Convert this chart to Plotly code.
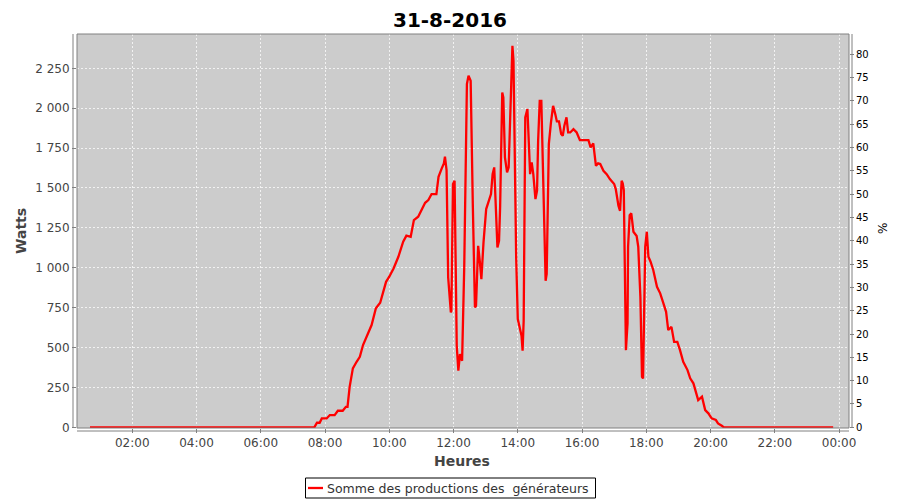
import plotly.graph_objects as go

DAY = "2016-08-31"
TITLE = "31-8-2016"
SERIES_NAME = "Somme des productions des \u00a0générateurs"
PEAK_W = 2920  # watts corresponding to 100 %

times = [
    "00:41", "01:30", "02:30", "03:30", "04:30", "05:30", "06:30", "07:00", "07:40",
    "07:45", "07:50", "07:54", "08:03", "08:09", "08:18", "08:24", "08:33", "08:39", "08:42",
    "08:46", "08:52", "08:59", "09:05", "09:11", "09:21", "09:27", "09:35", "09:43", "09:54",
    "10:00", "10:08", "10:17", "10:26", "10:32", "10:40", "10:46", "10:54", "10:59", "11:07",
    "11:13", "11:19", "11:28", "11:32", "11:38", "11:42", "11:44", "11:47", "11:50", "11:55",
    "11:56", "11:59", "12:02", "12:06", "12:09", "12:12", "12:16", "12:20", "12:25", "12:28",
    "12:32", "12:36", "12:40", "12:42", "12:46", "12:49", "12:52", "12:56", "13:01", "13:05",
    "13:10", "13:13", "13:16", "13:18", "13:20", "13:22", "13:25", "13:27", "13:31", "13:33",
    "13:36", "13:40", "13:43", "13:46", "13:48", "13:50", "13:52", "13:55", "13:57", "14:00",
    "14:04", "14:07", "14:09", "14:11", "14:14", "14:18", "14:21", "14:23", "14:26", "14:29",
    "14:33", "14:36", "14:38", "14:41", "14:44", "14:47", "14:50", "14:52", "14:54", "14:56",
    "14:58", "15:02", "15:06", "15:10", "15:13", "15:17", "15:21", "15:24", "15:27", "15:31",
    "15:34", "15:38", "15:44", "15:50", "15:56", "16:04", "16:12", "16:16", "16:21", "16:26",
    "16:30", "16:34", "16:40", "16:46", "16:52", "17:00", "17:03", "17:08", "17:11", "17:14",
    "17:16", "17:18", "17:20", "17:22", "17:25", "17:26", "17:29", "17:32", "17:36", "17:42",
    "17:45", "17:49", "17:52", "17:54", "17:56", "17:58", "18:01", "18:04", "18:08", "18:13",
    "18:20", "18:26", "18:32", "18:37", "18:41", "18:47", "18:52", "18:58", "19:03", "19:09",
    "19:17", "19:22", "19:28", "19:33", "19:37", "19:44", "19:50", "19:56", "20:02", "20:10",
    "20:14", "20:21", "20:25", "21:00", "22:00", "23:00", "23:49",
]

watts = [
    0, 0, 0, 0, 0, 0, 0, 0, 0,
    29, 29, 56, 56, 77, 77, 104, 104, 129, 129,
    254, 370, 411, 442, 516, 599, 641, 746, 781, 912,
    944, 996, 1069, 1163, 1201, 1194, 1299, 1320, 1351, 1407,
    1424, 1462, 1462, 1570, 1623, 1654, 1696, 1612, 940, 720,
    731, 1525, 1545, 511, 355, 459, 417, 1003, 2151, 2203,
    2172, 1399, 752, 762, 1138, 1044, 929, 1159, 1368, 1410,
    1462, 1587, 1629, 1462, 1211, 1128, 1169, 1378, 2099, 2068,
    1692, 1598, 1629, 1984, 2297, 2391, 2297, 1525, 1065, 679,
    627, 574, 480, 668, 1943, 1994, 1754, 1587, 1660, 1587,
    1430, 1483, 1796, 2046, 2046, 1629, 1128, 919, 961, 1420,
    1775, 1911, 2015, 1963, 1917, 1917, 1838, 1827, 1890, 1943,
    1848, 1848, 1869, 1848, 1800, 1800, 1800, 1754, 1779, 1639,
    1654, 1650, 1608, 1587, 1556, 1525, 1493, 1389, 1357, 1545,
    1529, 1487, 923, 484, 652, 1132, 1330, 1341, 1226, 1199,
    1132, 818, 317, 307, 714, 1132, 1226, 1069, 1038, 986,
    881, 840, 777, 724, 610, 630, 536, 536, 484, 411,
    359, 307, 276, 213, 171, 192, 108, 88, 56, 46,
    25, 10, 0, 0, 0, 0, 0,
]

left_ticks = list(range(0, 2500, 250))
right_ticks = list(range(0, 85, 5))

x = [f"{DAY} {t}" for t in times]
pct = [w / PEAK_W * 100 for w in watts]

fig = go.Figure()
fig.add_trace(go.Scatter(
    x=x, y=watts, mode="lines", name=SERIES_NAME,
    line=dict(color="#ff0000", width=2.3), yaxis="y", showlegend=False,
))
fig.add_trace(go.Scatter(
    x=x, y=pct, mode="lines", showlegend=False, hoverinfo="skip",
    line=dict(color="rgba(0,0,0,0)", width=0), yaxis="y2",
))

axis_gray = "#808080"
tick_gray = "#444444"

# The page body adds an 8px offset; lay out in figure pixels = screen pixels - 8
OFF = 8
L, T = 77 - OFF, 34 - OFF
R = 900 - (849 - OFF)
B = 500 - (428 - OFF)
W = 900 - L - R
H = 500 - T - B

fig.update_layout(
    width=900, height=500,
    margin=dict(l=L, r=R, t=T, b=B, autoexpand=False),
    paper_bgcolor="white",
    plot_bgcolor="#cccccc",
    font=dict(family="DejaVu Sans", size=12, color=tick_gray),
    separators=", ",
    title=dict(text=f"<b>{TITLE}</b>", x=(450 - OFF) / 900, xanchor="center",
               y=1 - 12 / 500, yanchor="middle", font=dict(size=20, color="black")),
    showlegend=False,
    xaxis=dict(
        type="date", automargin=False,
        range=[f"{DAY} 00:16:48", "2016-09-01 00:18:36"],
        tick0=f"{DAY} 00:00", dtick=2 * 3600 * 1000, tickformat="%H:%M",
        showgrid=True, gridcolor="#f2f2f2", griddash="2px,2px", gridwidth=1,
        zeroline=False, showline=False,
        ticks="outside", ticklen=4, tickcolor=axis_gray, ticklabelstandoff=0,
        tickfont=dict(size=12, color=tick_gray),
    ),
    yaxis=dict(
        automargin=False,
        range=[-4, 2465],
        tickvals=left_ticks, tickformat=",d",
        showgrid=True, gridcolor="#f2f2f2", griddash="2px,2px", gridwidth=1,
        zeroline=False, showline=False,
        ticks="outside", ticklen=4, tickcolor=axis_gray,
        tickfont=dict(size=12, color=tick_gray),
    ),
    yaxis2=dict(
        overlaying="y", side="right", anchor="x", automargin=False,
        range=[-0.15, 84.35],
        tickvals=right_ticks,
        showgrid=False, zeroline=False, showline=False,
        ticks="outside", ticklen=4, tickcolor=axis_gray,
        tickfont=dict(size=10, color="black"),
    ),
)


def px_x(px):
    return (px - OFF - L) / W


def px_y(py):
    return (500 - B - (py - OFF)) / H


shapes = [
    dict(type="rect", xref="paper", yref="paper", x0=0, x1=1, y0=0, y1=1,
         line=dict(color=axis_gray, width=1), fillcolor="rgba(0,0,0,0)", layer="above"),
    dict(type="line", xref="paper", yref="paper", x0=px_x(73), x1=px_x(73), y0=0, y1=1,
         line=dict(color=axis_gray, width=1)),
    dict(type="line", xref="paper", yref="paper", x0=px_x(852), x1=px_x(852), y0=0, y1=1,
         line=dict(color=axis_gray, width=1)),
    dict(type="line", xref="paper", yref="paper", x0=0, x1=1, y0=px_y(431), y1=px_y(431),
         line=dict(color=axis_gray, width=1)),
    # legend box and sample line
    dict(type="rect", xref="paper", yref="paper", x0=px_x(305.5), x1=px_x(595.5),
         y0=px_y(498), y1=px_y(478), line=dict(color="black", width=1), fillcolor="white"),
    dict(type="line", xref="paper", yref="paper", x0=px_x(308), x1=px_x(323),
         y0=px_y(488), y1=px_y(488), line=dict(color="#ff0000", width=2.3)),
]

annotations = [
    dict(text="<b>Watts</b>", xref="paper", yref="paper", x=px_x(21), y=px_y(231),
         textangle=-90, showarrow=False, xanchor="center", yanchor="middle",
         font=dict(size=14, color=tick_gray)),
    dict(text="<b>Heures</b>", xref="paper", yref="paper", x=px_x(462), y=px_y(461),
         showarrow=False, xanchor="center", yanchor="middle",
         font=dict(size=14, color=tick_gray)),
    dict(text="%", xref="paper", yref="paper", x=px_x(883), y=px_y(229),
         textangle=-90, showarrow=False, xanchor="center", yanchor="middle",
         font=dict(size=12, color="black")),
    dict(text=SERIES_NAME, xref="paper", yref="paper", x=px_x(325), y=px_y(488),
         showarrow=False, xanchor="left", yanchor="middle",
         font=dict(size=12.5, color="#333333")),
]
fig.update_layout(shapes=shapes, annotations=annotations)

fig.write_html("out.html")
